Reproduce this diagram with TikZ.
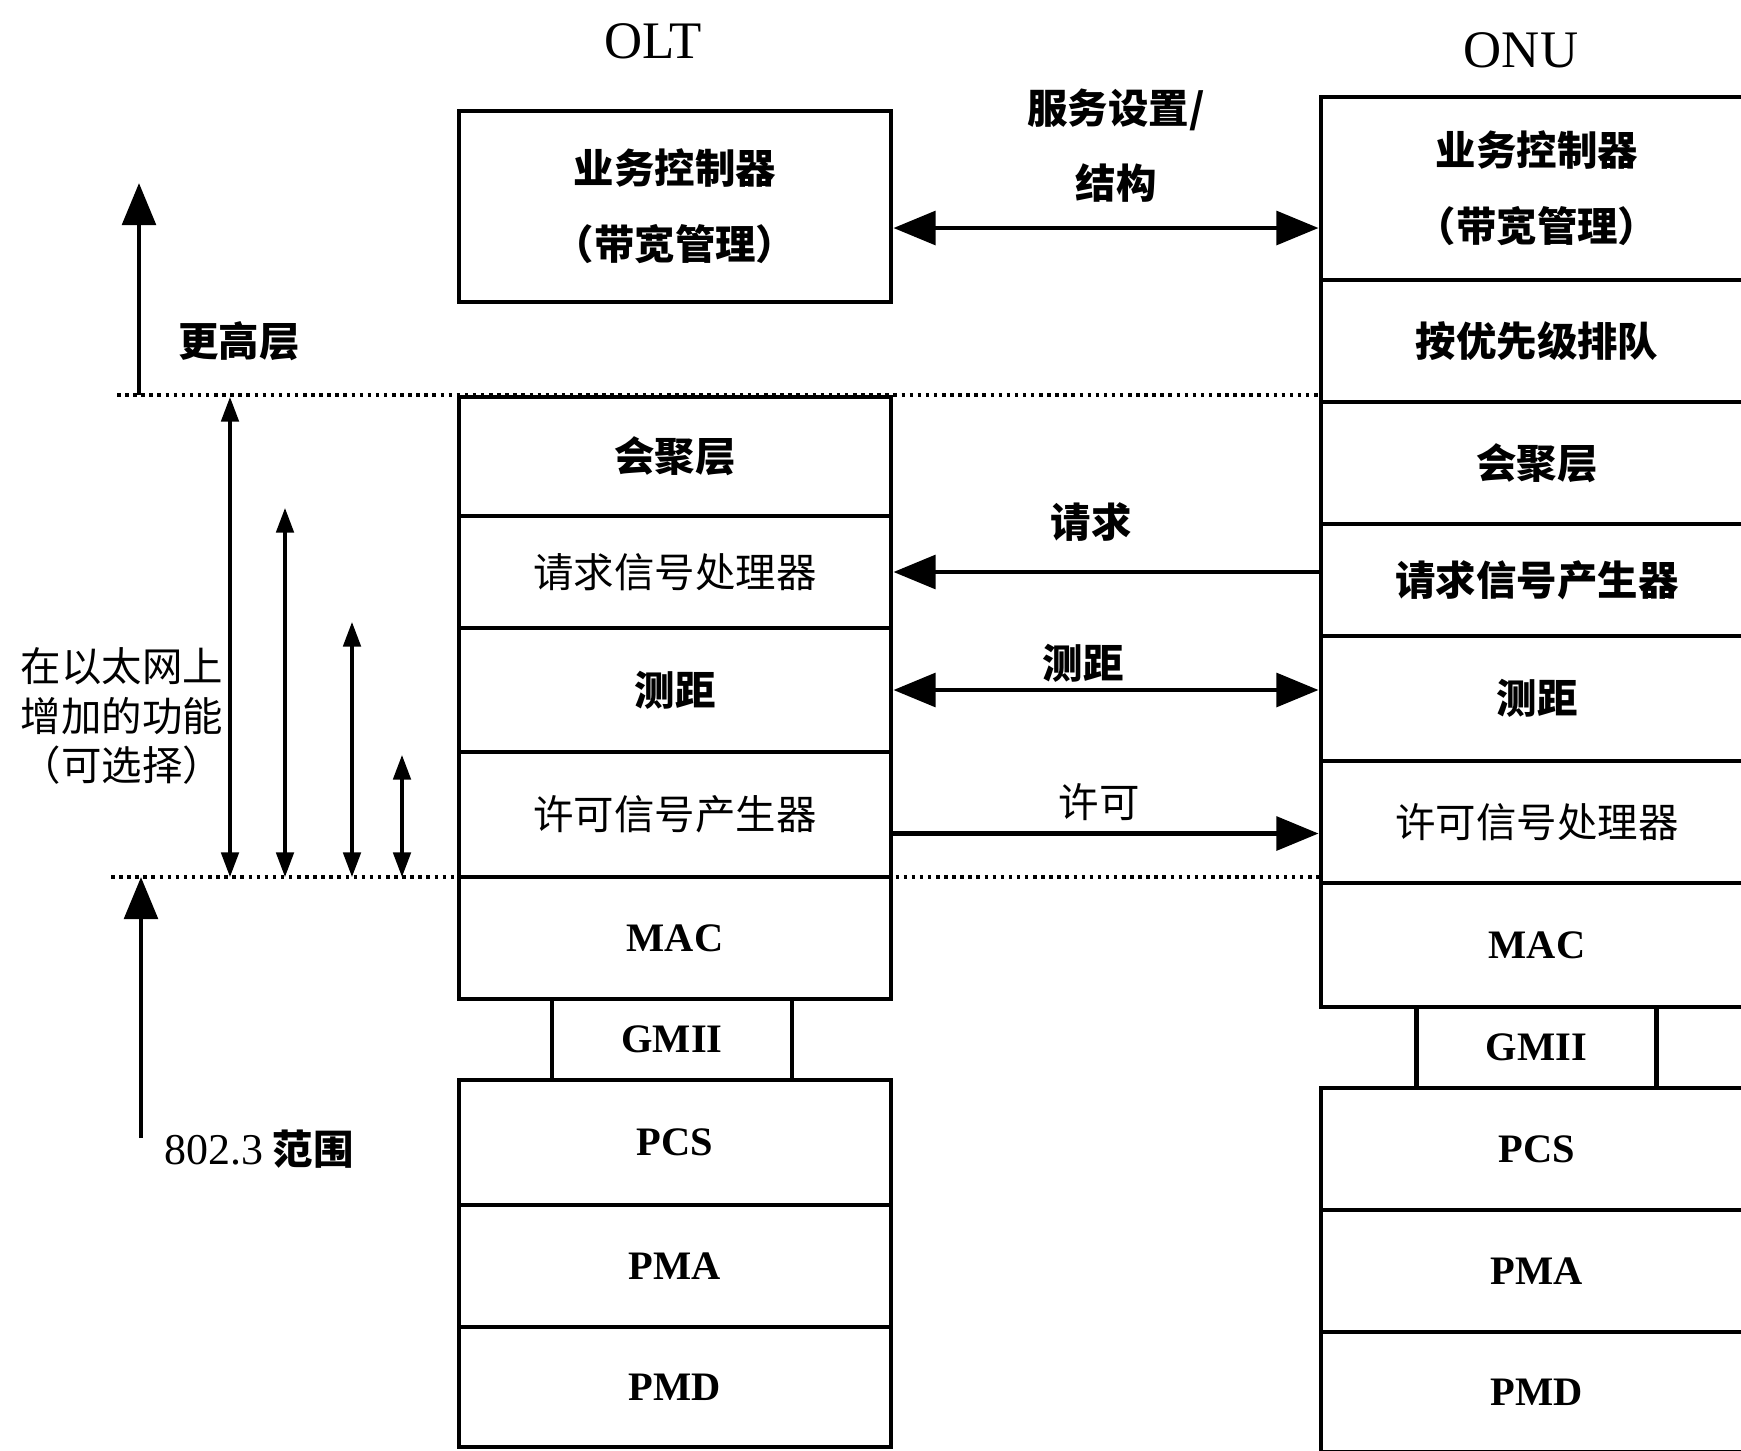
\documentclass[tikz,border=0pt]{standalone}
\usepackage{fontspec}
\setmainfont{Liberation Serif}
\newfontfamily\cjk{Noto Sans CJK SC}
\usetikzlibrary{arrows.meta}
\newcommand\lat[1]{{\rmfamily\bfseries\fontsize{11.5}{14}\selectfont #1}}

\begin{document}
\begin{tikzpicture}[x=0.01cm,y=-0.01cm,
    line cap=butt,line join=miter,
    layer/.style={draw,line width=1.3pt,minimum width=4.32cm,inner sep=0pt,
      align=center,font=\cjk\bfseries\fontsize{11.5}{21.5}\selectfont},
    gmii/.style={layer,minimum width=2.40cm},
    bigarrow/.style={line width=1.4pt,-{Triangle[length=12pt,width=9.5pt]}},
    bigboth/.style={line width=1.4pt,
      {Triangle[length=12pt,width=9.5pt]}-{Triangle[length=12pt,width=9.5pt]}},
    span/.style={line width=0.9pt,
      {Triangle[length=7pt,width=5pt]}-{Triangle[length=7pt,width=5pt]}},
    boundary/.style={line width=1pt,dash pattern=on 1pt off 1.3pt},
    lbl/.style={font=\cjk\bfseries\fontsize{11.5}{21.3}\selectfont,align=center},
    title/.style={font=\rmfamily\fontsize{15}{18}\selectfont}]
    \useasboundingbox (0,0) rectangle (1741,1451);

    % Titles of the two stacks.
    \node[title] (oltTitle) at (653,41) {OLT};
    \node[title] (onuTitle) at (1521,50) {ONU};

    % OLT protocol stack.
    \foreach \nm/\top/\bot/\txt in {
        octl/111/302/{业务控制器\\（带宽管理）},
        oagg/397/516/会聚层,
        oreq/516/628/{\mdseries 请求信号处理器},
        orng/628/752/测距,
        ogrt/752/877/{\mdseries 许可信号产生器},
        omac/877/999/{\lat{MAC}},
        opcs/1080/1205/{\lat{PCS}},
        opma/1205/1327/{\lat{PMA}},
        opmd/1327/1447/{\lat{PMD}}}
      \node[layer,minimum height={(\bot-\top)*0.01cm}] (\nm)
        at (675,{(\top+\bot)/2}) {\txt};
    \node[gmii,minimum height=0.81cm] (ogmii) at (672,1039.5) {\lat{GMII}};

    % ONU protocol stack (runs off the right edge).
    \foreach \nm/\top/\bot/\txt in {
        uctl/97/280/{业务控制器\\（带宽管理）},
        uque/280/402/按优先级排队,
        uagg/402/524/会聚层,
        ureq/524/636/请求信号产生器,
        urng/636/761/测距,
        ugrt/761/883/{\mdseries 许可信号处理器},
        umac/883/1007/{\lat{MAC}},
        upcs/1088/1210/{\lat{PCS}},
        upma/1210/1332/{\lat{PMA}},
        upmd/1332/1452/{\lat{PMD}}}
      \node[layer,minimum height={(\bot-\top)*0.01cm}] (\nm)
        at (1537,{(\top+\bot)/2}) {\txt};
    \node[gmii,minimum height=0.81cm] (ugmii) at (1536.5,1047.5) {\lat{GMII}};

    % Messages between OLT and ONU.
    \coordinate (svcL) at ([yshift=-0.215cm]octl.east);
    \draw[bigboth] (svcL) -- (svcL -| uctl.west);
    \node[lbl] (svcTxt) at (1116,146) {服务设置/\\结构};

    \draw[bigarrow] (oreq.east -| ureq.west) -- (oreq.east);
    \node[lbl] (reqTxt) at (1091,522) {请求};

    \draw[bigboth] (orng.east) -- (orng.east -| urng.west);
    \node[lbl] (rngTxt) at (1083,663) {测距};

    \coordinate (grtL) at ([yshift=-0.19cm]ogrt.east);
    \draw[bigarrow] (grtL) -- (grtL -| ugrt.west);
    \node[lbl,font=\cjk\fontsize{11.5}{14}\selectfont] (grtTxt) at (1099,802) {许可};

    % Dotted boundaries of the added functions.
    \coordinate (hiL) at (117,395);
    \coordinate (loL) at (111,877);
    \draw[boundary] (hiL) -- (hiL -| uagg.west);
    \draw[boundary] (loL) -- (loL -| umac.west);

    % Higher layers and 802.3 scope.
    \coordinate (hiTip) at (139,183);
    \draw[bigarrow] (hiTip |- hiL) -- (hiTip);
    \node[lbl] (hiTxt) at (239,341) {更高层};

    \coordinate (stdFoot) at (141,1138);
    \draw[bigarrow] (stdFoot) -- (stdFoot |- loL);
    \node[lbl] (stdTxt) at (259,1149)
      {{\rmfamily\mdseries\fontsize{12.5}{15}\selectfont 802.3} 范围};

    % Spans of the optional functions.
    \foreach \x/\y in {230/397,285/508,352/622,402/755} {
      \coordinate (sTop) at (\x,\y);
      \draw[span] (sTop) -- (sTop |- loL);
    }
    \node[align=center,font=\cjk\fontsize{11.5}{14.2}\selectfont] (optTxt)
      at (122,716) {在以太网上\\增加的功能\\（可选择）};
\end{tikzpicture}
\end{document}
